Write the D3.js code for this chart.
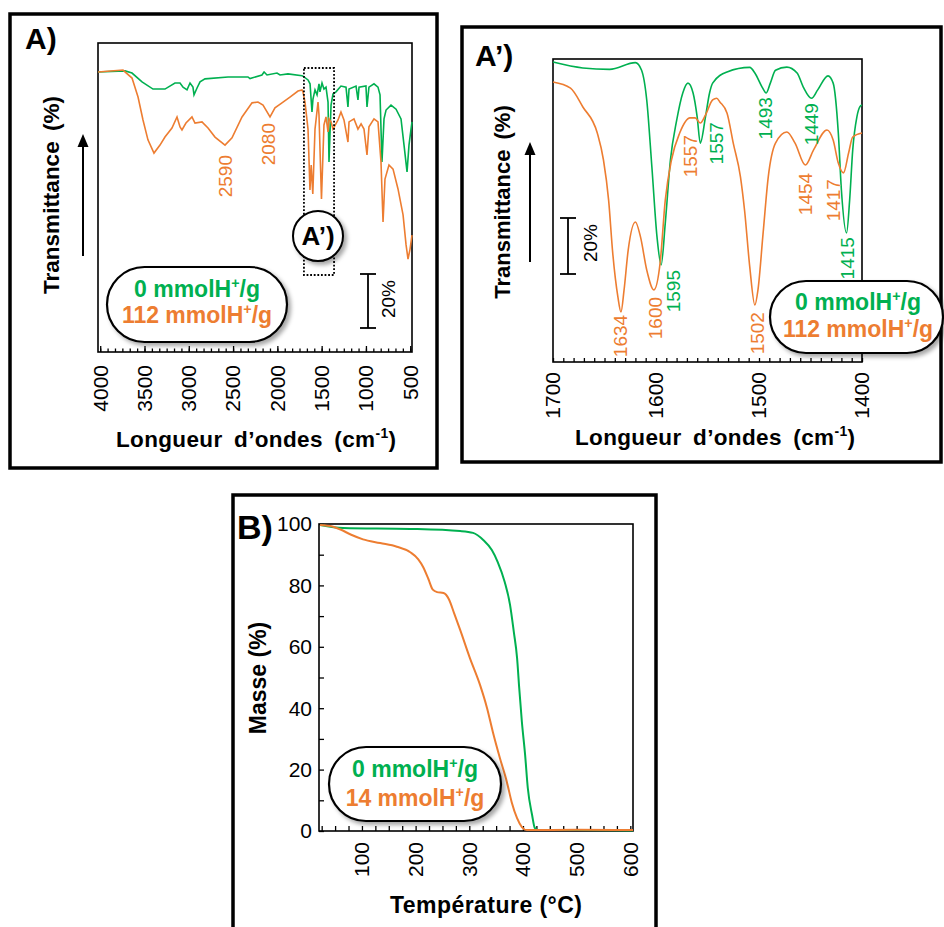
<!DOCTYPE html>
<html><head><meta charset="utf-8">
<script src="https://cdn.jsdelivr.net/npm/d3@7"></script>
<style>body{margin:0;background:#fff}svg{display:block}text{font-family:"Liberation Sans",Arial,Helvetica,sans-serif}</style>
</head><body><svg id="c" width="944" height="927"></svg>
<script>
// ---------- DATA ----------
// Panel A: full FTIR spectra [wavenumber cm-1, transmittance (arb. %)]
const irGreenA = [[4025,101.5],[3720,101.9],[3641,101.1],[3528,97.9],[3404,95.3],[3269,95.3],[3156,97.5],[3099,97.5],[3065,96],[3020,95],[2986,97.5],[2953,96],[2941,93.2],[2907,95.7],[2873,97.9],[2817,99],[2557,99.7],[2332,99.7],[2309,99.1],[2174,100.4],[2150,101.5],[2117,100.4],[2004,101.1],[1970,100.4],[1880,100.8],[1722,100.1],[1711,100],[1654,98.6],[1631,97.2],[1609,87],[1598,91.7],[1575,95],[1552,93.2],[1530,97.2],[1519,94.3],[1496,97.5],[1474,95.3],[1451,96],[1428,90.6],[1417,68.9],[1394,89.5],[1372,93.5],[1338,94.3],[1282,96.4],[1225,96],[1203,88.8],[1191,95.3],[1112,96.4],[1090,91.4],[1078,96],[1000,96.4],[988,88.8],[966,96],[909,97.2],[864,96],[841,93.2],[819,68.9],[796,84.5],[773,87.7],[717,89.5],[660,88],[604,84.5],[570,75],[536,65.3],[514,75],[491,80.8],[480,83.4]];
const irOrangeA = [[4025,101.5],[3743,102.2],[3641,99.3],[3573,92.4],[3517,84.1],[3461,76.9],[3393,72.1],[3325,75],[3269,77.9],[3190,81.2],[3133,85.2],[3099,81.6],[3077,80.5],[3032,83],[2964,85.2],[2930,83],[2851,83.4],[2783,81.2],[2704,77.9],[2591,75],[2512,77.6],[2399,85.2],[2286,90.3],[2219,90.6],[2162,89.5],[2083,85.2],[2027,88.5],[1948,90.3],[1858,92.4],[1767,94.6],[1722,95],[1711,94.3],[1688,90.6],[1654,80.8],[1642,68.9],[1632,58.7],[1618,67.8],[1600,57.3],[1575,80.8],[1541,90.6],[1530,85.9],[1502,55.5],[1474,82.3],[1451,85.2],[1428,79.8],[1417,84.5],[1394,83.4],[1372,80.8],[1315,84.1],[1282,87],[1248,84.1],[1203,76.1],[1191,83.4],[1135,84.5],[1090,80.8],[1055,82.7],[1022,80.8],[988,71.4],[966,81.6],[909,84.5],[864,83.4],[830,68.9],[807,47.1],[785,62.7],[740,67.8],[694,66.3],[638,59.1],[581,49.7],[547,38.8],[525,33.7],[502,37.3],[480,42.4]];
const irTicksA = [4000,3500,3000,2500,2000,1500,1000,500];
// peak labels: [text, wavenumber, level, series]
const peaksA = [["2590",2591,71.4,"o"],["2080",2106,83,"o"]];

// Panel A': zoom 1700-1400 cm-1
const irGreenP = [[1700,106.9],[1671,104.8],[1645,104.3],[1620,106.7],[1614,104],[1609,93.4],[1604,69.5],[1599,44.5],[1595,34.6],[1591,49.5],[1586,72],[1580,86],[1574,95.9],[1569,99.4],[1564,95.9],[1560,87.3],[1557,78],[1552,87.3],[1548,95.9],[1545,99.4],[1531,103.4],[1509,105],[1504,103],[1497,98],[1493,95.9],[1489,99.4],[1484,104],[1473,105.1],[1463,103],[1457,98],[1449,94],[1443,97],[1433,102],[1428,99.4],[1423,81.6],[1420,61.3],[1415,46],[1412,57.7],[1409,75.6],[1405,87.3],[1402,91],[1400,91.6]];
const irOrangeP = [[1700,99.8],[1683,97.6],[1671,90.9],[1657,81.6],[1651,72],[1646,57.7],[1642,38.8],[1637,23.2],[1634,17.8],[1631,25.7],[1627,39.9],[1620,49.9],[1615,44.5],[1609,32.8],[1602,25.7],[1596,35.3],[1591,57.7],[1585,72],[1577,81.6],[1567,87],[1562,87],[1557,85.2],[1552,88],[1545,93.4],[1541,94],[1538,92.7],[1531,88.7],[1525,78],[1518,66],[1514,54],[1509,34],[1504,20.3],[1501,25.7],[1496,46],[1491,66],[1484,78],[1473,82],[1465,78],[1455,70.2],[1447,75.6],[1434,82.7],[1428,79.1],[1423,70.9],[1418,67.4],[1413,74.5],[1409,80.2],[1400,81.6]];
const irTicksP = [1700,1600,1500,1400];
const peaksP = [["1634",1635,16.8,"o"],["1600",1601,23.2,"o"],["1595",1583.5,32.8,"g"],["1557",1567,80.9,"o"],["1557",1541,85.5,"g"],["1493",1494,94.4,"g"],["1449",1449.5,92.3,"g"],["1454",1455.3,67.4,"o"],["1417",1428,65.2,"o"],["1415",1414.6,44.5,"g"],["1502",1502,17.8,"o"]];
const legendIR = ["0","112"];

// Panel B: TGA [temperature °C, mass %]
const tgaGreen = [[22,99.7],[65,98.7],[190,98.4],[283,97.7],[307,97.1],[326,94.8],[342,91.5],[353,87.6],[366,81.1],[376,73.6],[383,64.8],[389,56.4],[393,46.6],[398,35.5],[404,24.8],[409,14],[417,5.2],[422,1],[428,0.3],[500,0.3],[605,0.2]];
const tgaOrange = [[22,99.7],[45,99.2],[60,98.2],[80,96.5],[102,95],[134,93.8],[165,92.6],[190,90.8],[205,88.5],[214,86],[224,82],[232,78.6],[240,77.8],[252,77.5],[262,75.5],[272,70.8],[283,65.5],[301,56.4],[320,47.6],[333,40.1],[344,32.2],[357,23.8],[370,16],[379,9.4],[389,4.2],[398,1.3],[407,0.3],[500,0.4],[605,0.3]];
const tgaTicksX = [100,200,300,400,500,600];
const tgaTicksY = [0,20,40,60,80,100];
const legendTGA = ["0","14"];

// ---------- DRAWING ----------
const GREEN = "#00B050", ORANGE = "#ED7D31";
const col = s => s === "g" ? GREEN : ORANGE;
const svg = d3.select("#c");
svg.append("rect").attr("width",944).attr("height",927).attr("fill","#fff");
const defs = svg.append("defs");
const f = defs.append("filter").attr("id","sh").attr("x","-20%").attr("y","-20%").attr("width","150%").attr("height","160%");
f.append("feDropShadow").attr("dx",3).attr("dy",3).attr("stdDeviation",2).attr("flood-color","#000").attr("flood-opacity",0.35);

function rich(parent, x, y, parts, o) {
  const t = parent.append("text").attr("x",x).attr("y",y)
    .attr("text-anchor",o.anchor||"middle").attr("font-size",o.size)
    .attr("font-weight",o.weight||"normal").attr("fill",o.fill||"#000");
  if (o.transform) t.attr("transform",o.transform);
  if (o.ws) t.attr("word-spacing",o.ws);
  if (o.len) t.attr("textLength",o.len).attr("lengthAdjust","spacing");
  let shift = 0;
  parts.forEach(p => {
    const ts = t.append("tspan").text(p.t);
    if (p.sup) { ts.attr("font-size",o.size*0.62).attr("dy",-o.size*0.4); shift = o.size*0.4; }
    else if (shift) { ts.attr("dy",shift); shift = 0; }
  });
  return t;
}
function vlabel(g, x, yTop, str, size, fill, weight) {
  g.append("text").attr("transform",`translate(${x},${yTop}) rotate(-90)`)
    .attr("text-anchor","end").attr("dy","0.35em").attr("font-size",size)
    .attr("font-weight",weight||"normal").attr("fill",fill).text(str);
}
function arrow(g, x, yBot, yTip) {
  g.append("line").attr("x1",x).attr("x2",x).attr("y1",yBot).attr("y2",yTip+10).attr("stroke","#000").attr("stroke-width",2);
  g.append("path").attr("d",`M${x},${yTip} L${x-5.5},${yTip+13} L${x+5.5},${yTip+13} Z`).attr("fill","#000");
}
function scaleBar(g, x, y1, y2, tx, ty) {
  g.append("line").attr("x1",x).attr("x2",x).attr("y1",y1).attr("y2",y2).attr("stroke","#000").attr("stroke-width",1.8);
  [y1,y2].forEach(y => g.append("line").attr("x1",x-8).attr("x2",x+8).attr("y1",y).attr("y2",y).attr("stroke","#000").attr("stroke-width",1.8));
  g.append("text").attr("transform",`translate(${tx},${ty}) rotate(-90)`).attr("text-anchor","middle").attr("dy","0.35em").attr("font-size",19).text("20%");
}
function pill(g, x, y, w, h, lines, cx, bases, size) {
  g.append("rect").attr("x",x).attr("y",y).attr("width",w).attr("height",h).attr("rx",h/2).attr("ry",h/2)
    .attr("fill","#fff").attr("stroke","#000").attr("stroke-width",2.2).attr("filter","url(#sh)");
  lines.forEach((n,i) => rich(g, cx, bases[i], [{t:n+" mmolH"},{t:"+",sup:true},{t:"/g"}], {size:size, weight:"bold", fill: i===0?GREEN:ORANGE}));
}
function frame(x1,y1,x2,y2,w){ svg.append("rect").attr("x",x1).attr("y",y1).attr("width",x2-x1).attr("height",y2-y1).attr("fill","none").attr("stroke","#000").attr("stroke-width",w); }
function ticksX(g, sc, vals, y0, len) {
  g.append("g").attr("transform",`translate(0,${y0})`)
    .call(d3.axisBottom(sc).tickValues(vals).tickSizeInner(-len).tickSizeOuter(0).tickFormat(""))
    .call(a => a.select(".domain").remove())
    .call(a => a.selectAll("line").attr("stroke","#000").attr("stroke-width",1.3));
}

// Outer panel frames
frame(10,14,437,468,3.5);
frame(462,27,941,462,3.5);
frame(233,495,656,945,3.5);

// ===== Panel A =====
{
  const g = svg.append("g");
  const x = d3.scaleLinear().domain([4025,480]).range([98,412]);
  const y = d3.scaleLinear().domain([0,112]).range([352,43]);
  g.append("rect").attr("x",98).attr("y",43).attr("width",314).attr("height",309).attr("fill","none").attr("stroke","#000").attr("stroke-width",1.6);
  const minor = d3.range(0,43).map(k => 4000 - k*500/6);
  ticksX(g, x, minor, 352, 3.5);
  ticksX(g, x, irTicksA, 352, 6);
  irTicksA.forEach(v => vlabel(g, x(v), 365, String(v), 21, "#000"));
  const line = d3.line().x(d=>x(d[0])).y(d=>y(d[1]));
  g.append("path").datum(irGreenA).attr("d",line).attr("fill","none").attr("stroke",GREEN).attr("stroke-width",1.6);
  g.append("path").datum(irOrangeA).attr("d",line).attr("fill","none").attr("stroke",ORANGE).attr("stroke-width",1.6);
  peaksA.forEach(p => vlabel(g, x(p[1]), y(p[2]), p[0], 19, col(p[3])));
  // dotted zoom box
  g.append("rect").attr("x",x(1700)).attr("y",68).attr("width",x(1360)-x(1700)).attr("height",207)
    .attr("fill","none").attr("stroke","#000").attr("stroke-width",1.8).attr("stroke-dasharray","1.8,1.8");
  g.append("circle").attr("cx",318).attr("cy",236).attr("r",25).attr("fill","#fff").attr("stroke","#000").attr("stroke-width",2).attr("filter","url(#sh)");
  g.append("text").attr("x",318).attr("y",245).attr("text-anchor","middle").attr("font-size",26).attr("font-weight","bold").text("A’)");
  scaleBar(g, 368, 274, 328, 388, 299);
  pill(g, 107, 267, 180, 75, legendIR, 197, [297,323], 23);
  arrow(g, 83, 256, 134);
  g.append("text").attr("transform","translate(51,195) rotate(-90)").attr("text-anchor","middle").attr("dy","0.35em").attr("font-size",22.5).attr("font-weight","bold").attr("word-spacing",4).text("Transmittance (%)");
  rich(g, 256, 447, [{t:"Longueur d’ondes (cm"},{t:"-1",sup:true},{t:")"}], {size:22.5, weight:"bold", ws:5, len:280});
  g.append("text").attr("x",25).attr("y",49).attr("font-size",30).attr("font-weight","bold").text("A)");
}

// ===== Panel A' =====
{
  const g = svg.append("g");
  const x = d3.scaleLinear().domain([1700,1400]).range([553,862]);
  const y = d3.scaleLinear().domain([0,108]).range([362,59]);
  g.append("rect").attr("x",553).attr("y",59).attr("width",309).attr("height",303).attr("fill","none").attr("stroke","#000").attr("stroke-width",1.6);
  ticksX(g, x, d3.range(1700,1399,-10), 362, 4);
  irTicksP.forEach(v => vlabel(g, x(v), 372, String(v), 21, "#000"));
  const line = d3.line().x(d=>x(d[0])).y(d=>y(d[1])).curve(d3.curveMonotoneX);
  g.append("path").datum(irGreenP).attr("d",line).attr("fill","none").attr("stroke",GREEN).attr("stroke-width",1.6);
  g.append("path").datum(irOrangeP).attr("d",line).attr("fill","none").attr("stroke",ORANGE).attr("stroke-width",1.6);
  peaksP.forEach(p => vlabel(g, x(p[1]), y(p[2]), p[0], 19, col(p[3])));
  scaleBar(g, 568, 218, 274, 590, 243);
  pill(g, 770, 281, 173, 72, legendIR, 858, [310,337], 23);
  arrow(g, 530, 262, 142);
  g.append("text").attr("transform","translate(502,202) rotate(-90)").attr("text-anchor","middle").attr("dy","0.35em").attr("font-size",22).attr("font-weight","bold").attr("word-spacing",4).text("Transmittance (%)");
  rich(g, 715, 445, [{t:"Longueur d’ondes (cm"},{t:"-1",sup:true},{t:")"}], {size:22.5, weight:"bold", ws:5, len:280});
  g.append("text").attr("x",475).attr("y",66).attr("font-size",30).attr("font-weight","bold").text("A’)");
}

// ===== Panel B =====
{
  const g = svg.append("g");
  const x = d3.scaleLinear().domain([20,605]).range([319,633]);
  const y = d3.scaleLinear().domain([0,100]).range([831,524]);
  g.append("rect").attr("x",319).attr("y",524).attr("width",314).attr("height",307).attr("fill","none").attr("stroke","#000").attr("stroke-width",1.6);
  ticksX(g, x, d3.range(25,601,25), 831, 5);
  g.append("g").attr("transform","translate(319,0)")
    .call(d3.axisLeft(y).tickValues(d3.range(0,101,10)).tickSizeInner(-5).tickSizeOuter(0).tickFormat(""))
    .call(a => a.select(".domain").remove())
    .call(a => a.selectAll("line").attr("stroke","#000").attr("stroke-width",1.3));
  tgaTicksX.forEach(v => vlabel(g, x(v), 842, String(v), 21, "#000"));
  tgaTicksY.forEach(v => g.append("text").attr("x",312).attr("y",y(v)).attr("dy","0.35em").attr("text-anchor","end").attr("font-size",21).text(v));
  const line = d3.line().x(d=>x(d[0])).y(d=>y(d[1])).curve(d3.curveMonotoneX);
  g.append("path").datum(tgaGreen).attr("d",line).attr("fill","none").attr("stroke",GREEN).attr("stroke-width",2);
  g.append("path").datum(tgaOrange).attr("d",line).attr("fill","none").attr("stroke",ORANGE).attr("stroke-width",2);
  pill(g, 329, 747, 172, 74, legendTGA, 415, [777,806], 23);
  g.append("text").attr("transform","translate(258,678) rotate(-90)").attr("text-anchor","middle").attr("dy","0.35em").attr("font-size",23).attr("font-weight","bold").text("Masse (%)");
  g.append("text").attr("x",486).attr("y",913).attr("text-anchor","middle").attr("font-size",23).attr("font-weight","bold").attr("textLength",192).attr("lengthAdjust","spacing").text("Température (°C)");
  g.append("text").attr("x",237).attr("y",539).attr("font-size",34).attr("font-weight","bold").text("B)");
}
</script></body></html>
